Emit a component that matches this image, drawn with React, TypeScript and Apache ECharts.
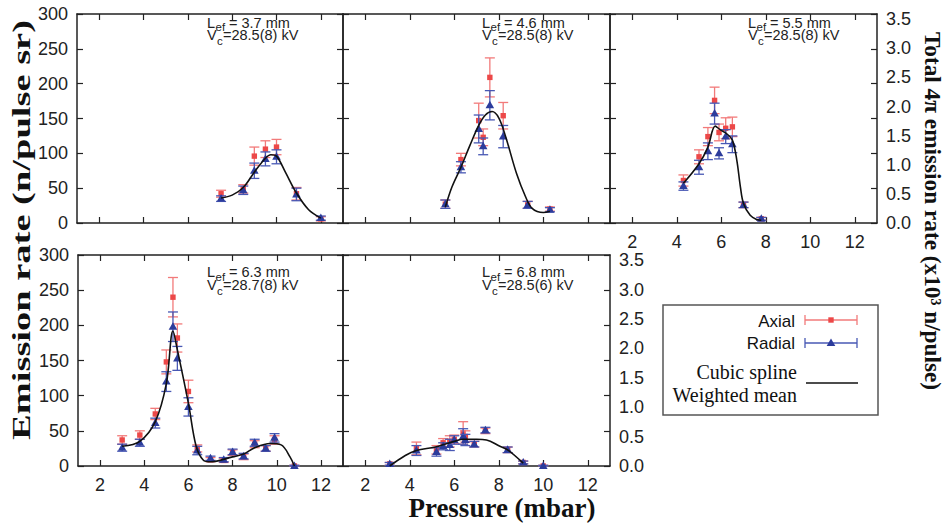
import React, { useEffect, useRef } from 'react';
import * as echarts from 'echarts';

// ---------- data ----------
const xTickValues = [2, 4, 6, 8, 10, 12];
const rightTickValues = [0, 0.5, 1, 1.5, 2, 2.5, 3, 3.5];

// Panel 1: Lef = 3.7 mm
const p1Pressure = [7.5, 8.5, 9.0, 9.5, 10.0, 10.9, 12.0];
const p1Axial = [42, 49, 96, 106, 109, 42, 6];
const p1AxialErr = [5, 6, 13, 12, 11, 9, 3];
const p1Radial = [35, 47, 75, 92, 95, 41, 7];
const p1RadialErr = [4, 6, 11, 10, 10, 9, 3];
const p1CurveX = [7.5, 8.0, 8.5, 9.0, 9.5, 9.75, 10.0, 10.4, 10.9, 11.45, 12.0];
const p1CurveY = [36, 40, 51, 73, 93, 98, 96, 73, 43, 19, 7];

// Panel 2: Lef = 4.6 mm
const p2Pressure = [5.6, 6.3, 7.1, 7.3, 7.6, 8.2, 9.3, 10.3];
const p2Axial = [27, 91, 147, 123, 209, 154, 26, 20];
const p2AxialErr = [6, 9, 25, 12, 28, 19, 5, 3];
const p2Radial = [27, 80, 135, 110, 169, 124, 26, 19];
const p2RadialErr = [6, 8, 20, 12, 21, 16, 5, 3];
const p2CurveX = [5.6, 5.9, 6.3, 6.7, 7.1, 7.4, 7.7, 8.0, 8.3, 8.8, 9.2, 9.5, 10.0, 10.3];
const p2CurveY = [23, 52, 80, 111, 140, 155, 160, 151, 125, 71, 38, 21, 15, 17];

// Panel 3: Lef = 5.5 mm
const p3Pressure = [4.3, 5.0, 5.4, 5.7, 5.9, 6.2, 6.5, 7.0, 7.8];
const p3Axial = [61, 95, 124, 176, 130, 136, 138, 26, 6];
const p3AxialErr = [8, 10, 13, 19, 12, 15, 14, 4, 2];
const p3Radial = [53, 80, 103, 157, 100, 124, 113, 26, 6];
const p3RadialErr = [6, 10, 12, 15, 8, 10, 12, 4, 2];
const p3CurveX = [4.3, 5.0, 5.4, 5.73, 5.95, 6.25, 6.5, 6.7, 6.86, 7.0, 7.3, 7.6, 7.8];
const p3CurveY = [57, 85, 109, 139, 134, 128, 119, 90, 52, 28, 11, 5, 4];

// Panel 4: Lef = 6.3 mm
const p4Pressure = [3.0, 3.8, 4.5, 5.0, 5.3, 5.5, 6.0, 6.4, 7.0, 7.6, 8.0, 8.5, 9.0, 9.5, 9.9, 10.8];
const p4Axial = [37, 44, 74, 148, 240, 182, 106, 25, 9, 8, 19, 13, 31, 25, 37, 0];
const p4AxialErr = [6, 6, 8, 17, 28, 20, 16, 5, 3, 3, 4, 4, 5, 4, 6, 1];
const p4Radial = [26, 33, 61, 120, 198, 153, 84, 22, 11, 9, 20, 14, 33, 25, 40, 0];
const p4RadialErr = [5, 5, 7, 14, 21, 17, 13, 6, 3, 3, 4, 4, 5, 4, 6, 1];
const p4CurveX = [3.0, 3.8, 4.5, 5.0, 5.3, 5.5, 6.0, 6.35, 6.67, 7.0, 8.0, 8.5, 9.0, 9.7, 10.2, 10.6, 10.8];
const p4CurveY = [28, 35, 63, 117, 192, 165, 89, 28, 8.5, 6, 13, 17, 26, 32, 30, 13, 0];

// Panel 5: Lef = 6.8 mm
const p5Pressure = [3.1, 4.3, 5.2, 5.5, 5.8, 6.0, 6.4, 6.5, 6.9, 7.4, 8.4, 9.1, 10.0];
const p5Axial = [3, 25, 23, 33, 35, 38, 47, 42, 31, 50, 23, 5, 0];
const p5AxialErr = [2, 9, 6, 6, 8, 6, 16, 8, 4, 4, 4, 2, 1];
const p5Radial = [3, 22, 20, 28, 30, 37, 42, 37, 31, 51, 23, 5, 0];
const p5RadialErr = [2, 7, 6, 5, 8, 6, 11, 8, 4, 4, 4, 2, 1];
const p5CurveX = [3.1, 3.8, 4.3, 5.15, 6.0, 6.4, 7.0, 7.45, 8.05, 8.4, 9.1];
const p5CurveY = [0, 15, 22, 27, 35, 38, 38, 37, 28, 23, 4];

const lefLabels = ['3.7', '4.6', '5.5', '6.3', '6.8'];
const vcLabels = ['28.5(8)', '28.5(8)', '28.5(8)', '28.7(8)', '28.5(6)'];

const panelData = [
  { pressure: p1Pressure, axial: p1Axial, axialErr: p1AxialErr, radial: p1Radial, radialErr: p1RadialErr, cx: p1CurveX, cy: p1CurveY },
  { pressure: p2Pressure, axial: p2Axial, axialErr: p2AxialErr, radial: p2Radial, radialErr: p2RadialErr, cx: p2CurveX, cy: p2CurveY },
  { pressure: p3Pressure, axial: p3Axial, axialErr: p3AxialErr, radial: p3Radial, radialErr: p3RadialErr, cx: p3CurveX, cy: p3CurveY },
  { pressure: p4Pressure, axial: p4Axial, axialErr: p4AxialErr, radial: p4Radial, radialErr: p4RadialErr, cx: p4CurveX, cy: p4CurveY },
  { pressure: p5Pressure, axial: p5Axial, axialErr: p5AxialErr, radial: p5Radial, radialErr: p5RadialErr, cx: p5CurveX, cy: p5CurveY },
];

// ---------- layout ----------
const layout = [
  { left: 77, top: 14, width: 266, height: 209, xLab: false, leftLab: true, rightLab: false, ax: 207, ay: 22.7 },
  { left: 343, top: 14, width: 267, height: 209, xLab: false, leftLab: false, rightLab: false, ax: 482, ay: 22.7 },
  { left: 610, top: 14, width: 267, height: 209, xLab: true, leftLab: false, rightLab: true, ax: 748, ay: 22.7 },
  { left: 78, top: 255, width: 265, height: 211, xLab: true, leftLab: true, rightLab: false, ax: 207, ay: 272 },
  { left: 343, top: 255, width: 267, height: 211, xLab: true, leftLab: false, rightLab: true, ax: 482, ay: 272 },
];

const RED = '#ec4848';
const RED_BAR = '#f27a7a';
const BLUE = '#2c3c9c';
const BLUE_BAR = '#4858b4';
const FRAME = '#222';
const SANS = '"Liberation Sans", Arial, Helvetica, sans-serif';
const SERIF = '"Liberation Serif", "Times New Roman", serif';

function errRender(color: string, barColor: string, shape: string) {
  return (params: any, api: any) => {
    const x = api.value(0);
    const y = api.value(1);
    const e = api.value(2);
    const c = api.coord([x, y]);
    const top = api.coord([x, y + e])[1];
    const bot = api.coord([x, Math.max(0, y - e)])[1];
    const cw = 5;
    const ls = { stroke: barColor, lineWidth: 1.3 };
    const children: any[] = [
      { type: 'line', shape: { x1: c[0], y1: top, x2: c[0], y2: bot }, style: ls },
      { type: 'line', shape: { x1: c[0] - cw, y1: top, x2: c[0] + cw, y2: top }, style: ls },
      { type: 'line', shape: { x1: c[0] - cw, y1: bot, x2: c[0] + cw, y2: bot }, style: ls },
    ];
    if (shape === 'square') {
      children.push({ type: 'rect', shape: { x: c[0] - 2.7, y: c[1] - 2.7, width: 5.4, height: 5.4 }, style: { fill: color } });
    } else {
      children.push({
        type: 'polygon',
        shape: { points: [[c[0], c[1] - 4.5], [c[0] + 4.3, c[1] + 3], [c[0] - 4.3, c[1] + 3]] },
        style: { fill: color },
      });
    }
    return { type: 'group', children };
  };
}

function buildOption() {
  const grid: any[] = [];
  const xAxis: any[] = [];
  const yAxis: any[] = [];
  const series: any[] = [];
  const graphic: any[] = [];
  const lineStyle = { color: FRAME, width: 1.5 };
  const tickStyle = { color: FRAME, width: 1.2 };
  const labelStyle = { fontFamily: SANS, fontSize: 18, color: '#222' };

  layout.forEach((g, i) => {
    grid.push({ left: g.left, top: g.top, width: g.width, height: g.height, containLabel: false });
    const xb = xAxis.length;
    xAxis.push({
      gridIndex: i, type: 'value', min: 1, max: 13, position: 'bottom',
      axisLine: { show: true, onZero: false, lineStyle },
      axisTick: { show: true, inside: true, length: 6, customValues: xTickValues, lineStyle: tickStyle },
      axisLabel: { show: g.xLab, customValues: xTickValues, margin: 10, ...labelStyle },
      splitLine: { show: false },
    });
    xAxis.push({
      gridIndex: i, type: 'value', min: 1, max: 13, position: 'top',
      axisLine: { show: true, onZero: false, lineStyle },
      axisTick: { show: true, inside: true, length: 6, customValues: xTickValues, lineStyle: tickStyle },
      axisLabel: { show: false },
      splitLine: { show: false },
    });
    const yl = yAxis.length;
    yAxis.push({
      gridIndex: i, type: 'value', min: 0, max: 300, interval: 50, position: 'left',
      axisLine: { show: true, onZero: false, lineStyle },
      axisTick: { show: true, inside: true, length: 6, lineStyle: tickStyle },
      axisLabel: { show: g.leftLab, margin: 9, ...labelStyle },
      splitLine: { show: false },
    });
    yAxis.push({
      gridIndex: i, type: 'value', min: 0, max: 300, interval: 50, position: 'right',
      axisLine: { show: true, onZero: false, lineStyle },
      axisTick: { show: true, inside: true, length: 6, lineStyle: tickStyle },
      axisLabel: { show: false },
      splitLine: { show: false },
    });
    if (g.rightLab) {
      yAxis.push({
        gridIndex: i, type: 'value', min: 0, max: 3.59, position: 'right',
        axisLine: { show: false, onZero: false },
        axisTick: { show: false },
        axisLabel: {
          show: true, margin: 9, customValues: rightTickValues,
          formatter: (v: number) => v.toFixed(1), ...labelStyle,
        },
        splitLine: { show: false },
      });
    }

    const d = panelData[i];
    series.push({
      type: 'custom', name: 'Axial', xAxisIndex: xb, yAxisIndex: yl, clip: false,
      renderItem: errRender(RED, RED_BAR, 'square'),
      encode: { x: 0, y: 1 },
      data: d.pressure.map((x, k) => [x, d.axial[k], d.axialErr[k]]),
      z: 2,
    });
    series.push({
      type: 'custom', name: 'Radial', xAxisIndex: xb, yAxisIndex: yl, clip: false,
      renderItem: errRender(BLUE, BLUE_BAR, 'triangle'),
      encode: { x: 0, y: 1 },
      data: d.pressure.map((x, k) => [x, d.radial[k], d.radialErr[k]]),
      z: 3,
    });
    series.push({
      type: 'line', name: 'Cubic spline', xAxisIndex: xb, yAxisIndex: yl,
      data: d.cx.map((x, k) => [x, d.cy[k]]),
      smooth: 0.35, showSymbol: false, symbol: 'none',
      lineStyle: { color: '#111', width: 1.6 }, z: 4, silent: true,
    });

    // annotation with subscripts
    const fs = 14.5, sfs = 11.5;
    const txt = (x: number, y: number, text: string, size: number, lh: number) => ({
      type: 'text', x, y, z: 10,
      style: { text, fontFamily: SANS, fontSize: size, lineHeight: lh, fill: '#222', textAlign: 'left', textVerticalAlign: 'middle' },
    });
    graphic.push(txt(g.ax, g.ay, 'L', fs, 12));
    graphic.push(txt(g.ax + 8.6, g.ay + 4.5, 'ef', sfs, 8));
    graphic.push(txt(g.ax + 22, g.ay, '= ' + lefLabels[i] + ' mm', fs, 12));
    graphic.push(txt(g.ax, g.ay + 12.5, 'V', fs, 12));
    graphic.push(txt(g.ax + 10, g.ay + 18.5, 'c', sfs, 8));
    graphic.push(txt(g.ax + 16, g.ay + 12.5, '=' + vcLabels[i] + ' kV', fs, 12));
  });

  // axis titles
  graphic.push({
    type: 'text', x: 21, y: 230, rotation: Math.PI / 2, scaleX: 1.48,
    style: { text: 'Emission rate (n/pulse sr)', fontFamily: SERIF, fontWeight: 'bold', fontSize: 26, fill: '#111', textAlign: 'center', textVerticalAlign: 'middle' },
  });
  graphic.push({
    type: 'text', x: 933, y: 211, rotation: -Math.PI / 2, scaleX: 0.97,
    style: { text: 'Total 4\u03c0 emission rate (x10\u00b3 n/pulse)', fontFamily: SERIF, fontWeight: 'bold', fontSize: 24, fill: '#111', textAlign: 'center', textVerticalAlign: 'middle' },
  });
  graphic.push({
    type: 'text', x: 502, y: 508,
    style: { text: 'Pressure (mbar)', fontFamily: SERIF, fontWeight: 'bold', fontSize: 27, fill: '#111', textAlign: 'center', textVerticalAlign: 'middle' },
  });

  // legend box
  graphic.push({ type: 'rect', shape: { x: 663, y: 305, width: 215, height: 110 }, style: { fill: '#fff', stroke: '#555', lineWidth: 1.5 }, z: 5 });
  const legText = (x: number, y: number, text: string, font: string, size: number) => ({
    type: 'text', x, y, z: 6,
    style: { text, fontFamily: font, fontSize: size, fill: '#111', textAlign: 'right', textVerticalAlign: 'middle' },
  });
  graphic.push(legText(795, 321, 'Axial', SANS, 17));
  graphic.push(legText(795, 343, 'Radial', SANS, 17));
  graphic.push(legText(797, 372, 'Cubic spline', SERIF, 20));
  graphic.push(legText(797, 395, 'Weighted mean', SERIF, 20));
  const sample = (y: number, col: string, mk: any) => {
    const ls = { stroke: col, lineWidth: 1.3 };
    graphic.push({ type: 'line', z: 6, shape: { x1: 805, y1: y, x2: 857, y2: y }, style: ls });
    graphic.push({ type: 'line', z: 6, shape: { x1: 805, y1: y - 5, x2: 805, y2: y + 5 }, style: ls });
    graphic.push({ type: 'line', z: 6, shape: { x1: 857, y1: y - 5, x2: 857, y2: y + 5 }, style: ls });
    graphic.push(mk);
  };
  sample(320, RED_BAR, { type: 'rect', z: 7, shape: { x: 828.3, y: 317.3, width: 5.4, height: 5.4 }, style: { fill: RED } });
  sample(343, BLUE_BAR, { type: 'polygon', z: 7, shape: { points: [[831, 338.5], [835.3, 346], [826.7, 346]] }, style: { fill: BLUE } });
  graphic.push({ type: 'line', z: 6, shape: { x1: 806, y1: 383, x2: 858, y2: 383 }, style: { stroke: '#111', lineWidth: 1.5 } });

  return { animation: false, backgroundColor: '#fff', grid, xAxis, yAxis, series, graphic };
}

export default function App() {
  const ref = useRef<HTMLDivElement>(null);
  useEffect(() => {
    if (!ref.current) return;
    const chart = echarts.init(ref.current, undefined, { renderer: 'svg' });
    chart.setOption(buildOption() as any);
    return () => chart.dispose();
  }, []);
  return (
    <div
      ref={ref}
      style={{ position: 'absolute', left: 0, top: 0, width: 947, height: 527, background: '#fff' }}
    />
  );
}
